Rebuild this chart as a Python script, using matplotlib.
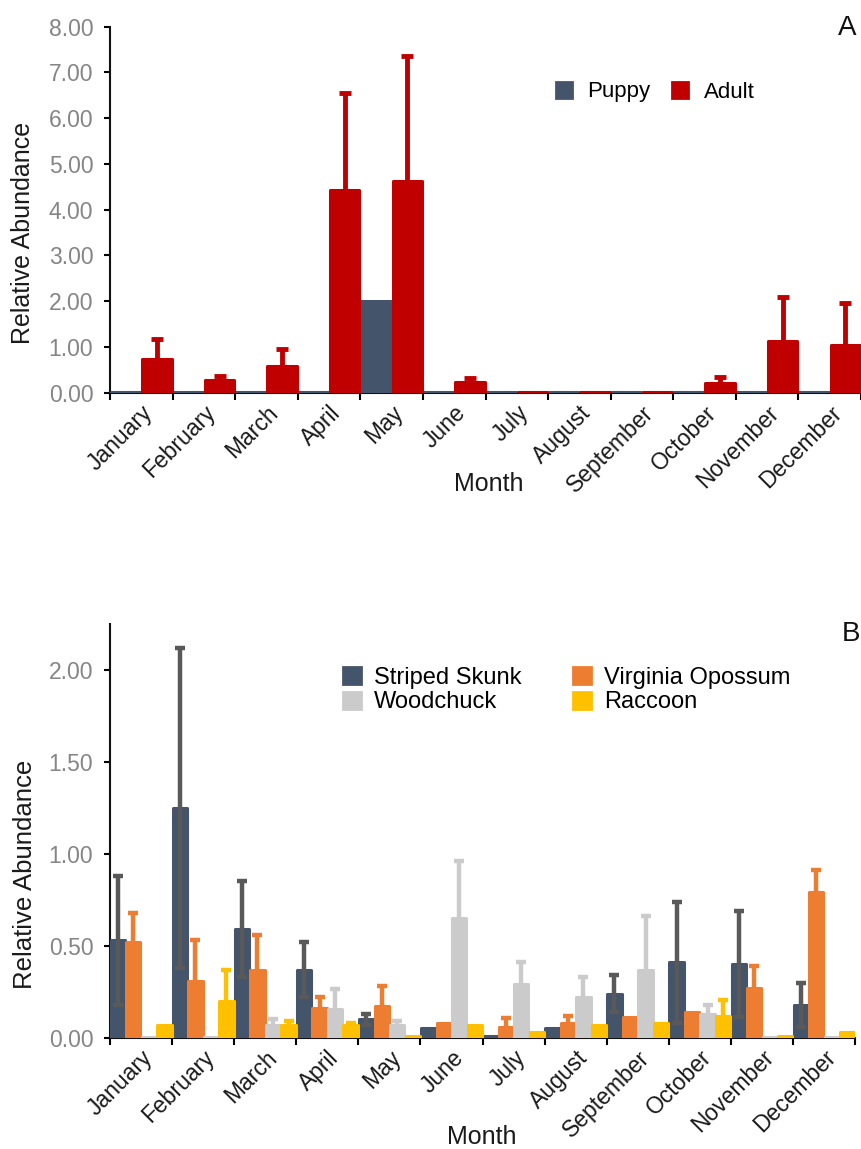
import matplotlib.pyplot as plt
import numpy as np
from matplotlib.patches import Patch

plt.rcParams['font.family'] = ['Liberation Sans', 'DejaVu Sans']

months = ["January", "February", "March", "April", "May", "June",
          "July", "August", "September", "October", "November", "December"]

# Panel A: coyote age classes
puppy = [0.02, 0.02, 0.02, 0.02, 2.00, 0.02, 0.02, 0.02, 0.02, 0.02, 0.02, 0.02]
puppy_err = [0, 0, 0, 0, 0, 0, 0, 0, 0, 0, 0, 0]
adult = [0.73, 0.28, 0.58, 4.42, 4.63, 0.23, 0.02, 0.02, 0.02, 0.22, 1.14, 1.04]
adult_err = [0.44, 0.09, 0.37, 2.12, 2.73, 0.09, 0, 0, 0, 0.12, 0.96, 0.91]

# Panel B: other mesocarnivores
skunk = [0.53, 1.25, 0.59, 0.37, 0.10, 0.05, 0.01, 0.05, 0.24, 0.41, 0.40, 0.18]
skunk_err = [0.35, 0.87, 0.26, 0.15, 0.03, 0, 0, 0, 0.10, 0.33, 0.29, 0.12]
opossum = [0.52, 0.31, 0.37, 0.16, 0.17, 0.08, 0.06, 0.08, 0.11, 0.14, 0.27, 0.79]
opossum_err = [0.16, 0.22, 0.19, 0.06, 0.11, 0, 0.045, 0.04, 0, 0, 0.12, 0.12]
woodchuck = [0.005, 0.005, 0.07, 0.155, 0.07, 0.65, 0.29, 0.22, 0.37, 0.13, 0.005, 0.005]
woodchuck_err = [0, 0, 0.03, 0.11, 0.02, 0.31, 0.12, 0.11, 0.29, 0.045, 0, 0]
raccoon = [0.07, 0.20, 0.07, 0.07, 0.01, 0.07, 0.03, 0.07, 0.08, 0.12, 0.01, 0.03]
raccoon_err = [0, 0.17, 0.02, 0.01, 0, 0, 0, 0, 0, 0.085, 0, 0]

c_blue = "#44546A"
c_red = "#C00000"
c_orange = "#ED7D31"
c_gray = "#CBCBCB"
c_yellow = "#FFC000"
c_dark = "#595959"

fig = plt.figure(figsize=(8.61, 11.49), dpi=100)
axA = fig.add_axes([0.1278, 0.6582, 0.8722, 0.3186])
axB = fig.add_axes([0.1278, 0.0969, 0.8653, 0.3600])

x = np.arange(len(months))


def draw_series(ax, xs, vals, errs, color, ecolor, width, elw, cap):
    ax.bar(xs, vals, width, color=color, edgecolor=color, linewidth=2.2,
           joinstyle='round', zorder=3)
    errs = np.array(errs)
    m = errs > 0
    ax.errorbar(xs[m], np.array(vals)[m], yerr=errs[m], fmt='none', ecolor=ecolor,
                elinewidth=elw, capsize=cap, capthick=elw, zorder=4)


def style_axis(ax, ymax, yticks):
    ax.set_xlim(0, 12)
    ax.set_ylim(0, ymax)
    for s in ['top', 'right']:
        ax.spines[s].set_visible(False)
    for s in ['left', 'bottom']:
        ax.spines[s].set_linewidth(1.5)
        ax.spines[s].set_color('#111111')
    ax.set_yticks(yticks)
    ax.set_yticklabels(["%.2f" % v for v in yticks])
    ax.tick_params(axis='y', length=4, width=1.5, pad=8, labelsize=16.5, labelcolor='#858585')
    ax.set_xticks(np.arange(13))
    ax.set_xticklabels([])
    ax.tick_params(axis='x', which='major', length=5, width=1.5)
    ax.set_xticks(np.arange(12) + 0.5, minor=True)
    ax.set_xticklabels(months, minor=True, rotation=45, ha='right', va='top',
                       rotation_mode='anchor', fontsize=16.5, color='#1a1a1a')
    ax.tick_params(axis='x', which='minor', length=0, pad=6)


# Panel A
bw = 0.47
draw_series(axA, x + 0.25, puppy, puppy_err, c_blue, c_blue, bw, 3.5, 4)
draw_series(axA, x + 0.75, adult, adult_err, c_red, c_red, bw, 3.5, 4)
style_axis(axA, 8, [0, 1, 2, 3, 4, 5, 6, 7, 8])

handlesA = [Patch(facecolor=c_blue, edgecolor=c_blue, linewidth=2, joinstyle='round', label='Puppy'),
            Patch(facecolor=c_red, edgecolor=c_red, linewidth=2, joinstyle='round', label='Adult')]
axA.legend(handles=handlesA, ncol=2, frameon=False, loc='center left',
           bbox_to_anchor=(556 / 861, 1 - 92 / 1149), bbox_transform=fig.transFigure,
           fontsize=16, borderpad=0, borderaxespad=0, handlelength=0.7, handleheight=0.7,
           handletextpad=0.7, columnspacing=1.0)

# Panel B
bw = 0.23
draw_series(axB, x + 0.125, skunk, skunk_err, c_blue, c_dark, bw, 3.2, 3.5)
draw_series(axB, x + 0.375, opossum, opossum_err, c_orange, c_orange, bw, 3.2, 3.5)
draw_series(axB, x + 0.625, woodchuck, woodchuck_err, c_gray, c_gray, bw, 3.2, 3.5)
draw_series(axB, x + 0.875, raccoon, raccoon_err, c_yellow, c_yellow, bw, 3.2, 3.5)
style_axis(axB, 2.25, [0, 0.5, 1.0, 1.5, 2.0])

handlesB = [Patch(facecolor=c_blue, edgecolor=c_blue, linewidth=2, joinstyle='round', label='Striped Skunk'),
            Patch(facecolor=c_gray, edgecolor=c_gray, linewidth=2, joinstyle='round', label='Woodchuck'),
            Patch(facecolor=c_orange, edgecolor=c_orange, linewidth=2, joinstyle='round', label='Virginia Opossum'),
            Patch(facecolor=c_yellow, edgecolor=c_yellow, linewidth=2, joinstyle='round', label='Raccoon')]
axB.legend(handles=handlesB, ncol=2, frameon=False, loc='center left',
           bbox_to_anchor=(343 / 861, 1 - 690 / 1149), bbox_transform=fig.transFigure,
           fontsize=17, borderpad=0, borderaxespad=0, handlelength=0.75, handleheight=0.75,
           handletextpad=0.55, columnspacing=2.2, labelspacing=0.12)

# Axis titles and panel letters
fig.text(23 / 861, 1 - 233 / 1149, "Relative Abundance", rotation=90, ha='center',
         va='center', fontsize=18, color='#1a1a1a')
fig.text(25 / 861, 1 - 874 / 1149, "Relative Abundance", rotation=90, ha='center',
         va='center', fontsize=18.5, color='#1a1a1a')
fig.text(489 / 861, 1 - 484 / 1149, "Month", ha='center', va='center', fontsize=18, color='#1a1a1a')
fig.text(482 / 861, 1 - 1137 / 1149, "Month", ha='center', va='center', fontsize=18, color='#1a1a1a')
fig.text(838 / 861, 1 - 28 / 1149, "A", ha='left', va='center', fontsize=20, color='#111111')
fig.text(842 / 861, 1 - 634 / 1149, "B", ha='left', va='center', fontsize=20, color='#111111')

fig.savefig("out.png", dpi=100)
